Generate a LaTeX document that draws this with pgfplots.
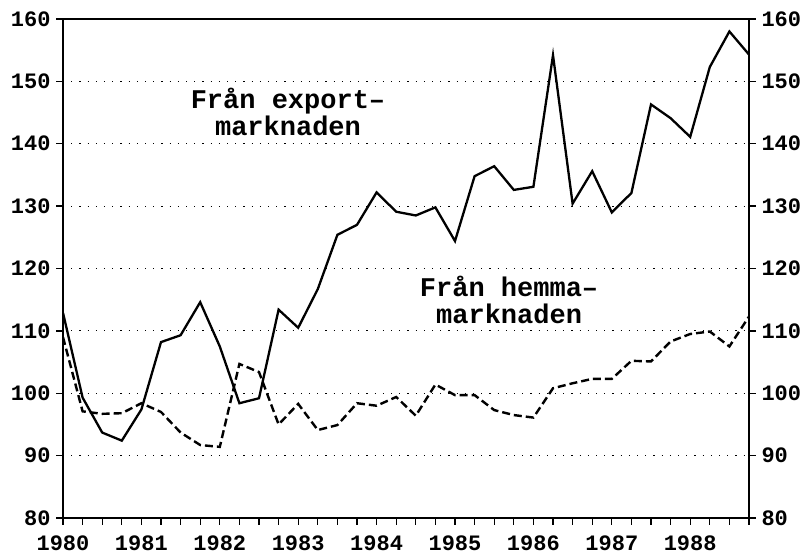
\documentclass[border=0pt]{standalone}
\usepackage{pgfplots}
\pgfplotsset{compat=1.18}
\usepackage{fontspec}
\setmainfont{Liberation Mono}
\begin{document}
\begin{tikzpicture}
\pgfplotsset{
  common/.style={
    width=686pt, height=499pt, scale only axis,
    xmin=1980, xmax=1988.75, ymin=80, ymax=160,
    ytick={80,90,...,160},
    /pgf/number format/assume math mode=true,
    tick style={black, line width=1.3pt},
    major tick length=7pt,
    tick align=outside,
    ticklabel style={font=\fontsize{22}{22}\selectfont\bfseries},
  }
}
\begin{axis}[common, name=main,
  axis line style={line width=1.5pt},
  xtick={1980,1981,...,1988},
  minor xtick={1980,1980.25,...,1988.75},
  minor tick length=7pt,
  xtick pos=bottom, ytick pos=left,
  /pgf/number format/1000 sep={},
  ymajorgrids,
  major grid style={black, line width=1.2pt, dash pattern=on 1.2pt off 7pt},
  yticklabel style={xshift=-2pt},
  xticklabel style={yshift=-7pt},
]
\addplot[black, line width=2.3pt, line join=miter] coordinates {
(1980.00,112.9) (1980.25,99.3) (1980.50,93.7) (1980.75,92.4)
(1981.00,97.4) (1981.25,108.2) (1981.50,109.3) (1981.75,114.6)
(1982.00,107.5) (1982.25,98.4) (1982.50,99.2) (1982.75,113.4)
(1983.00,110.5) (1983.25,116.7) (1983.50,125.4) (1983.75,127.0)
(1984.00,132.2) (1984.25,129.1) (1984.50,128.5) (1984.75,129.8)
(1985.00,124.4) (1985.25,134.8) (1985.50,136.4) (1985.75,132.6)
(1986.00,133.1) (1986.25,154.2) (1986.50,130.4) (1986.75,135.6)
(1987.00,129.0) (1987.25,132.1) (1987.50,146.3) (1987.75,144.1)
(1988.00,141.1) (1988.25,152.3) (1988.50,158.0) (1988.75,154.3)
};
\addplot[black, line width=2.4pt, dash pattern=on 8pt off 4pt] coordinates {
(1980.00,109.0) (1980.25,97.1) (1980.50,96.7) (1980.75,96.8)
(1981.00,98.4) (1981.25,97.0) (1981.50,93.7) (1981.75,91.7)
(1982.00,91.4) (1982.25,104.7) (1982.50,103.4) (1982.75,95.0)
(1983.00,98.3) (1983.25,94.1) (1983.50,94.9) (1983.75,98.4)
(1984.00,98.0) (1984.25,99.4) (1984.50,96.4) (1984.75,101.4)
(1985.00,99.7) (1985.25,99.7) (1985.50,97.3) (1985.75,96.5)
(1986.00,96.1) (1986.25,100.8) (1986.50,101.6) (1986.75,102.3)
(1987.00,102.3) (1987.25,105.2) (1987.50,105.1) (1987.75,108.3)
(1988.00,109.5) (1988.25,109.9) (1988.50,107.5) (1988.75,112.3)
};
\node[align=center, font=\fontsize{27}{27}\selectfont\bfseries] at (axis cs:1982.87,145.1) {Från export–\\marknaden};
\node[align=center, font=\fontsize{27}{27}\selectfont\bfseries] at (axis cs:1985.69,114.9) {Från hemma–\\marknaden};
\end{axis}
\begin{axis}[common,
  axis x line=none,
  axis y line*=right,
  axis line style={line width=1.5pt},
  yticklabel style={xshift=2pt},
]
\end{axis}
\path (main.south west) ++(-63pt,-35pt) coordinate (a);
\path (main.north east) ++(57pt,19pt) coordinate (b);
\path (a) rectangle (b);
\end{tikzpicture}
\end{document}
